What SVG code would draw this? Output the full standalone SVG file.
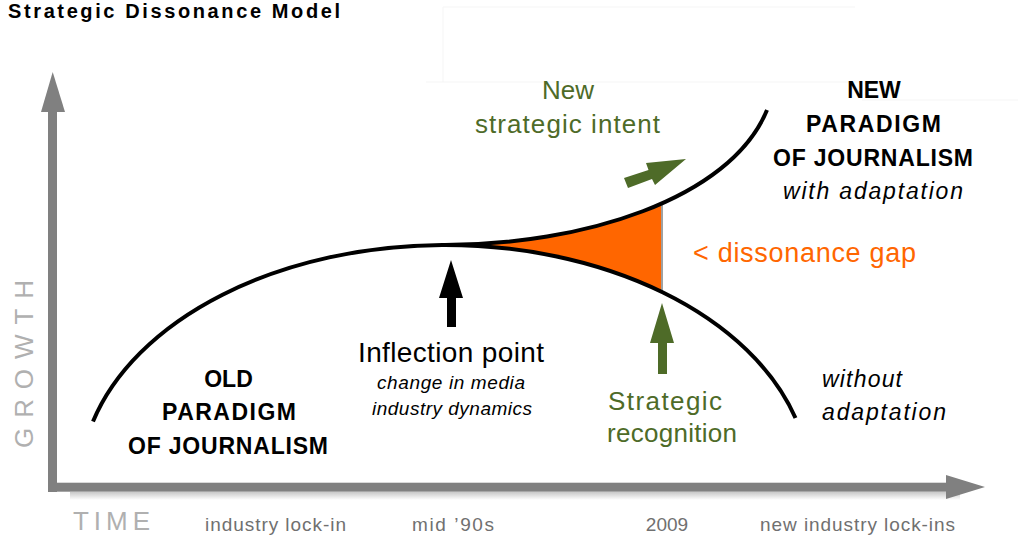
<svg xmlns="http://www.w3.org/2000/svg" width="1018" height="535" viewBox="0 0 1018 535">
<style>
.t{font-family:"Liberation Sans",Arial,sans-serif;}
.b{font-weight:bold;fill:#000;font-size:23px;text-anchor:middle;}
.g{fill:#4e6b28;font-size:26px;text-anchor:middle;}
.k{fill:#000;}
.i{font-style:italic;fill:#000;}
.ax{fill:#808080;}
.lbl{fill:#707070;font-size:19px;text-anchor:middle;}
.axl{fill:#b0b0b0;font-size:26px;}
.curve{fill:none;stroke:#000;stroke-width:4;}
</style>
<defs>
<linearGradient id="sh" x1="0" y1="0" x2="0" y2="1">
<stop offset="0" stop-color="#c8c8c8"/>
<stop offset="1" stop-color="#ffffff"/>
</linearGradient>
<clipPath id="gapclip"><rect x="440" y="150" width="222" height="200"/></clipPath>
</defs>
<rect width="1018" height="535" fill="#fff"/>
<g id="frame-artifacts" fill="none" stroke="#f5f5f5" stroke-width="1">
<path d="M443,7 H855 M443,7 V82 M426,82 H860 M862,100 H1018"/>
</g>
<text class="t" x="8" y="18" font-size="20" font-weight="bold" textLength="332">Strategic Dissonance Model</text>

<g id="axes">
<rect x="70" y="492" width="890" height="8" fill="url(#sh)"/>
<rect class="ax" x="48" y="108" width="9" height="384"/>
<polygon class="ax" points="52.7,72 41,112 65,112"/>
<rect class="ax" x="48" y="482.7" width="902" height="9"/>
<polygon class="ax" points="985,487 946,475 946,499"/>
<text class="t axl" transform="translate(33,364) rotate(-90)" text-anchor="middle" textLength="168">GROWTH</text>
<text class="t axl" x="73" y="530" font-size="24" textLength="77">TIME</text>
</g>

<g id="timeline">
<text class="t lbl" x="275.5" y="531" textLength="141">industry lock-in</text>
<text class="t lbl" x="453" y="531" textLength="82">mid ’90s</text>
<text class="t lbl" x="667" y="531">2009</text>
<text class="t lbl" x="857.5" y="531" textLength="195">new industry lock-ins</text>
</g>

<g id="connectors">
<path id="gap-fill" d="M445,245 C580,245 730,200 767,110 L767,372 A365 240 0 0 0 445,245 Z" fill="#ff6600" clip-path="url(#gapclip)"/>
<line x1="662" y1="205" x2="662" y2="292" stroke="#a0a0a0" stroke-width="2"/>
<path id="old-curve" class="curve" d="M93,421.5 A365 240 0 0 1 795.5,418"/>
<path id="new-curve" class="curve" d="M445,245 C580,245 730,200 767,110"/>
<polygon id="inflection-arrow" class="k" points="451,260 439,298 447,298 447,327 456,327 456,298 463,298"/>
<polygon id="recognition-arrow" fill="#4e6b28" points="662,303 650,343 658,343 658,374 667,374 667,343 674,343"/>
<polygon id="intent-arrow" fill="#4e6b28" points="686,159 646,163 648.5,170 624,178 628,188 652,179 655,185"/>
</g>

<g id="new-intent">
<text class="t g" x="568" y="99">New</text>
<text class="t g" x="567.5" y="133" textLength="185">strategic intent</text>
</g>

<g id="new-paradigm">
<text class="t b" x="874" y="98">NEW</text>
<text class="t b" x="873.5" y="132" textLength="135">PARADIGM</text>
<text class="t b" x="873" y="166" textLength="200">OF JOURNALISM</text>
<text class="t i" x="873" y="199" font-size="23" text-anchor="middle" textLength="180">with adaptation</text>
</g>

<g id="dissonance-gap">
<text class="t" x="693" y="262" font-size="27" fill="#ff6600" textLength="223">&lt; dissonance gap</text>
</g>

<g id="inflection-point">
<text class="t k" x="451" y="362" font-size="28" text-anchor="middle" textLength="186">Inflection point</text>
<text class="t i" x="451" y="389" font-size="19" text-anchor="middle" textLength="148">change in media</text>
<text class="t i" x="452" y="415" font-size="19" text-anchor="middle" textLength="160">industry dynamics</text>
</g>

<g id="old-paradigm">
<text class="t b" x="228.5" y="387">OLD</text>
<text class="t b" x="229" y="420" textLength="134">PARADIGM</text>
<text class="t b" x="228" y="454" textLength="200">OF JOURNALISM</text>
</g>

<g id="strategic-recognition">
<text class="t g" x="665" y="410" textLength="114">Strategic</text>
<text class="t g" x="672" y="442" textLength="130">recognition</text>
</g>

<g id="without-adaptation">
<text class="t i" x="822" y="387" font-size="23" textLength="80">without</text>
<text class="t i" x="822" y="420" font-size="23" textLength="124">adaptation</text>
</g>
</svg>
